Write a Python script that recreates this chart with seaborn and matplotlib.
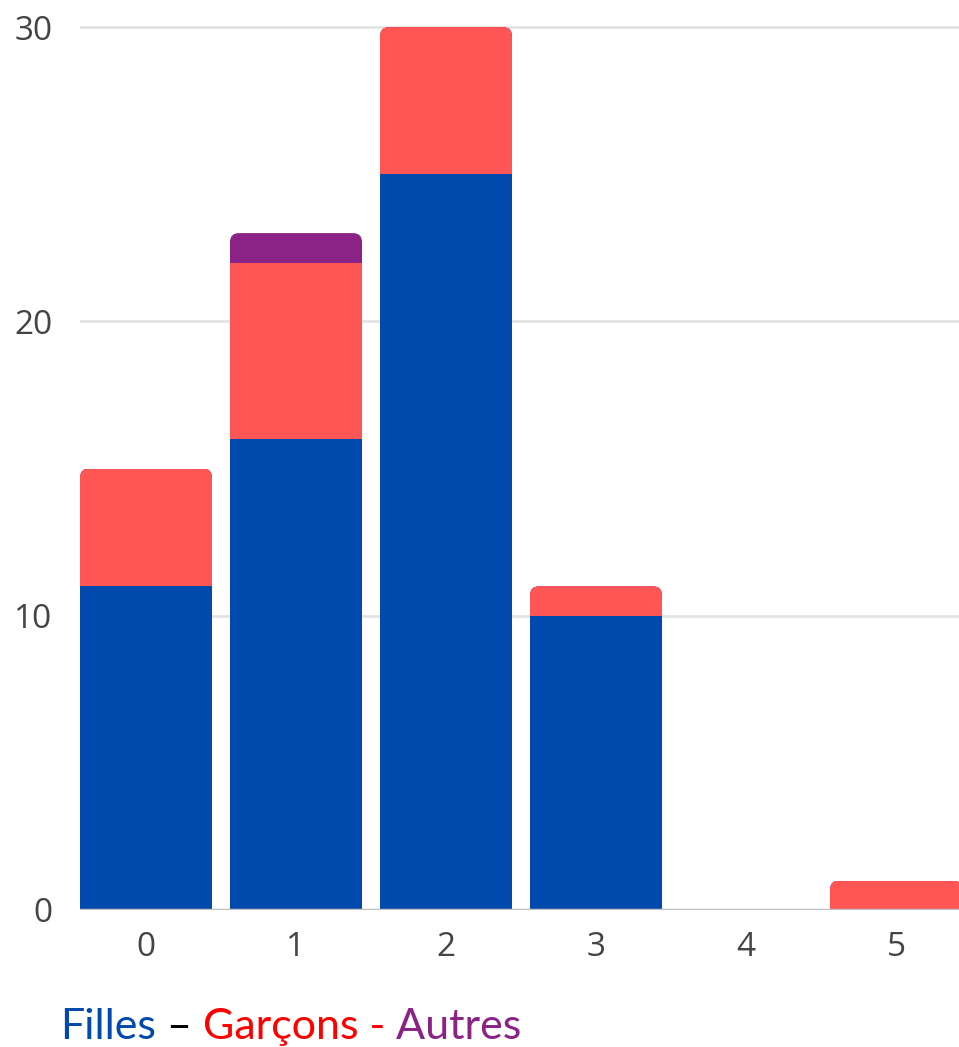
import numpy as np
import pandas as pd
import matplotlib
matplotlib.use("Agg")
import matplotlib.pyplot as plt
import seaborn as sns
from matplotlib.patches import FancyBboxPatch

# data
categories = ["0", "1", "2", "3", "4", "5"]
filles = [11, 16, 25, 10, 0, 0]
garcons = [4, 6, 5, 1, 0, 1]
autres = [0, 1, 0, 0, 0, 0]
y_ticks = [0, 10, 20, 30]

blue = "#004aad"
red = "#ff5555"
purple = "#8a2385"

sns.set_style("white")
plt.rcParams['font.family'] = ['Open Sans', 'DejaVu Sans']

frame = pd.DataFrame({"cat": categories, "filles": filles, "garcons": garcons, "autres": autres})
frame["fg"] = frame["filles"] + frame["garcons"]
frame["total"] = frame["fg"] + frame["autres"]

fig = plt.figure(figsize=(9.59, 10.47), dpi=100)
ax = fig.add_axes([80 / 959, 137 / 1047, 879 / 959, 1 - 137 / 1047])

# stacked by overlaying cumulative sums
sns.barplot(data=frame, x="cat", y="total", color=purple, width=0.88, saturation=1, ax=ax, zorder=3)
sns.barplot(data=frame, x="cat", y="fg", color=red, width=0.88, saturation=1, ax=ax, zorder=3)
sns.barplot(data=frame, x="cat", y="filles", color=blue, width=0.88, saturation=1, ax=ax, zorder=3)

ax.set_xlim(-0.44, 5.42)
ax.set_ylim(0, 30.92)

# rounded top corners on each stack
px_x = 879 / (5.42 + 0.44)
px_y = (1047 - 137) / 30.92
rad = 9 / px_x
n = len(categories)
for j in range(n):
    x0 = j - 0.44
    clip = FancyBboxPatch((x0, -2), 0.88, frame["total"][j] + 2,
                          boxstyle="round,pad=0,rounding_size=%f" % rad,
                          mutation_aspect=px_x / px_y, transform=ax.transData,
                          facecolor="none", edgecolor="none")
    for k in range(3):
        p = ax.patches[k * n + j]
        p.set_clip_path(clip)
        p.set_edgecolor("none")

for t in y_ticks[1:]:
    ax.axhline(t, color="#e3e3e3", lw=2, zorder=1)
ax.axhline(0, color="#c0c0c0", lw=2.5, zorder=4)

ax.set_yticks(y_ticks)
ax.set_xlabel("")
ax.set_ylabel("")
ax.tick_params(axis="both", length=0, labelsize=24, labelcolor="#444444")
ax.tick_params(axis="y", pad=20)
ax.tick_params(axis="x", pad=15)
for s in ax.spines.values():
    s.set_visible(False)

# coloured legend line under the chart
fs = 31
t1 = fig.text(60 / 959, 8 / 1047, "Filles", color=blue, fontsize=fs, family="Lato", va="baseline")
t2 = ax.annotate(" \u2013 ", xycoords=t1, xy=(1, 0), va="bottom", color="black", fontsize=fs, family="Lato", annotation_clip=False)
t3 = ax.annotate("Garçons -", xycoords=t2, xy=(1, 0), va="bottom", color="#ff0000", fontsize=fs, family="Lato", annotation_clip=False)
t4 = ax.annotate(" Autres", xycoords=t3, xy=(1, 0), va="bottom", color=purple, fontsize=fs, family="Lato", annotation_clip=False)

plt.savefig("out.png", dpi=100)
